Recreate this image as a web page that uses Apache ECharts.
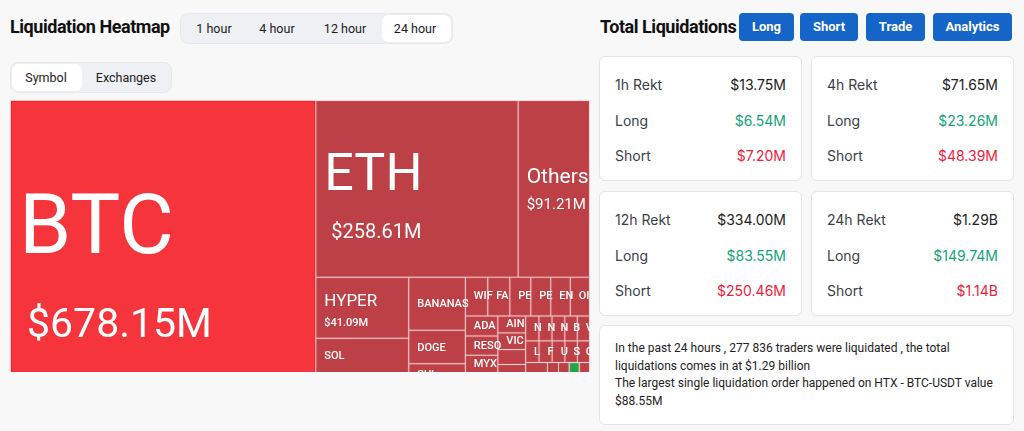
<!DOCTYPE html>
<html><head><meta charset="utf-8">
<script src="https://cdn.jsdelivr.net/npm/echarts@6/dist/echarts.min.js"></script>
<style>
html,body{margin:0;padding:0;width:1024px;height:431px;background:#f8f8f8;overflow:hidden;font-family:Roboto,"Noto Sans",sans-serif;color:#111;}
.a{position:absolute;}
.title{font-weight:700;font-size:18px;letter-spacing:-0.45px;color:#111;line-height:24px;}
.seg{background:#eef0f3;border-radius:8px;border:1px solid #e6e8ec;box-sizing:border-box;}
.segact{background:#fff;border-radius:6px;box-shadow:0 0 1px rgba(0,0,0,0.08);}
.segtxt{font-size:12.5px;color:#1b1b1b;line-height:16px;transform:translateX(-50%);white-space:nowrap;}
.btn{background:#1565c8;color:#fff;font-weight:700;font-size:13px;border-radius:4px;text-align:center;line-height:28px;height:28px;box-sizing:border-box;}
.card{background:#fff;border:1px solid #e4e4e4;border-radius:6px;box-sizing:border-box;}
.lab{font-size:14px;color:#3a3f47;line-height:18px;font-family:Inter,Roboto,sans-serif;}
.val{font-size:14px;color:#222;line-height:18px;text-align:right;font-family:Inter,Roboto,sans-serif;}
.g{color:#16a27a;} .r{color:#f0213a;}
.note{font-size:12px;line-height:17.5px;color:#222;white-space:nowrap;font-family:Roboto,sans-serif;}
#wrap{position:absolute;left:10px;top:100px;width:580px;height:272px;overflow:hidden;}
#chart{width:580px;height:308px;}
</style></head><body>
<div class="a title" style="left:10px;top:15px;">Liquidation Heatmap</div>
<div class="a seg" style="left:180px;top:13px;width:273px;height:31px;"></div>
<div class="a segact" style="left:382px;top:15px;width:69px;height:27px;"></div>
<div class="a segtxt" style="left:214px;top:21px;">1 hour</div>
<div class="a segtxt" style="left:277px;top:21px;">4 hour</div>
<div class="a segtxt" style="left:345px;top:21px;">12 hour</div>
<div class="a segtxt" style="left:415px;top:21px;">24 hour</div>
<div class="a seg" style="left:10px;top:62px;width:162px;height:31px;"></div>
<div class="a segact" style="left:12px;top:64px;width:70px;height:27px;"></div>
<div class="a segtxt" style="left:46px;top:70px;">Symbol</div>
<div class="a segtxt" style="left:126px;top:70px;">Exchanges</div>
<div id="wrap"><div id="chart"></div></div>

<div class="a title" style="left:600px;top:15px;">Total Liquidations</div>
<div class="a btn" style="left:739px;top:13px;width:55px;">Long</div>
<div class="a btn" style="left:800px;top:13px;width:58px;">Short</div>
<div class="a btn" style="left:866px;top:13px;width:59px;">Trade</div>
<div class="a btn" style="left:933px;top:13px;width:79px;">Analytics</div>
<div id="cards"></div>
<div class="a card" style="left:599px;top:325px;width:415px;height:100px;"></div>
<div class="a note" style="left:615px;top:340px;">In the past 24 hours , 277 836 traders were liquidated , the total<br>liquidations comes in at $1.29 billion<br>The largest single liquidation order happened on HTX - BTC-USDT value<br>$88.55M</div>
<script>
// ---- summary data ----
const periods = ['1h', '4h', '12h', '24h'];
const totals = ['$13.75M', '$71.65M', '$334.00M', '$1.29B'];
const longs = ['$6.54M', '$23.26M', '$83.55M', '$149.74M'];
const shorts = ['$7.20M', '$48.39M', '$250.46M', '$1.14B'];

// ---- treemap data (USD millions, 24h) ----
const coins = ['BTC','ETH','Others','HYPER','SOL','XRP','BANANAS','DOGE','SUI','ZEC',
  'WIF','FARTCOIN','PENGU','PEPE','ENA','OIL',
  'ADA','RESOLV','MYX','LINK','BNB',
  'AIN','VIC','1000BONK','UXLINK','AVAX','TRUMP',
  'NEAR','NMR','NOT','BCH','VIRTUAL',
  'LTC','FET','UNI','SEI','CRV',
  'OVER','TAO','APT','ARB',
  'ONDO','TIA','INJ','OP','JUP','WLD','AAVE','DOT','ATOM','FIL','ETC','HBAR','XLM','TON'];
const liqs = [678.15,258.61,91.21,41.09,24.5,22.1,21.8,13.7,9.4,8.5,
  6.3,6.2,5.9,5.6,5.5,5.4,
  4.7,4.5,4.3,4.1,3.9,
  3.4,3.35,3.0,2.95,2.9,2.8,
  2.4,2.35,2.3,2.25,2.2,
  2.1,2.05,2.0,1.95,1.9,
  1.85,1.8,1.75,1.7,
  1.2,1.15,1.1,1.1,1.05,1.0,1.0,0.95,0.95,0.9,0.9,0.85,0.8,0.75];
const longHeavy = ['OP'];
const brightRed = ['BTC'];

// cards
const pos = [[599,56],[811,56],[599,191],[811,191]];
let html = '';
periods.forEach((p, i) => {
  const [x, y] = pos[i];
  const w = 203;
  html += `<div class="a card" style="left:${x}px;top:${y}px;width:${w}px;height:125px;"></div>`;
  const rows = [[p + ' Rekt', totals[i], ''], ['Long', longs[i], 'g'], ['Short', shorts[i], 'r']];
  rows.forEach((r, k) => {
    const cy = y + 29 + k * 35.5 - 9;
    html += `<div class="a lab" style="left:${x+16}px;top:${cy}px;">${r[0]}</div>`;
    html += `<div class="a val ${r[2]}" style="left:${x+16}px;width:${w-32}px;top:${cy}px;">${r[1]}</div>`;
  });
});
document.getElementById('cards').innerHTML = html;

function tier(v) { return v >= 500 ? 0 : v >= 200 ? 1 : v >= 80 ? 2 : v >= 35 ? 3 : 4; }
const blockH = [189, 112, 55, 43, 12];
const tierShift = [9, 3, 0, 2, 0];
function buildData(pads) {
  return coins.map((c, i) => {
    const item = {
      name: c,
      value: liqs[i],
      itemStyle: {
        color: brightRed.includes(c) ? '#f5353b' : longHeavy.includes(c) ? '#22a447' : '#be4047',
        borderColor: brightRed.includes(c) ? '#ff1c28' : longHeavy.includes(c) ? '#3bb35e' : '#c44a51'
      }
    };
    if (pads && pads[c] != null) item.label = {padding: [pads[c], -7, 0, 7]};
    return item;
  });
}

const chart = echarts.init(document.getElementById('chart'), null, {renderer: 'canvas'});
const F = 'Roboto, "Noto Sans", sans-serif';
function opt(pads) {
  return {
    animation: false,
    series: [{
      type: 'treemap',
      left: 0, top: 0, width: '100%', height: '100%',
      roam: false, nodeClick: false,
      breadcrumb: {show: false},
      data: buildData(pads),
      levels: [
        {itemStyle: {borderWidth: 1, borderColor: '#f1d3d5', gapWidth: 1}},
        {itemStyle: {borderWidth: 1, gapWidth: 0}}
      ],
      label: {
        show: true,
        position: 'insideLeft',
        distance: 0,
        padding: [0, -7, 0, 7],
        overflow: 'truncate',
        ellipsis: '',
        color: '#fff',
        fontFamily: F,
        formatter: p => {
          const t = tier(p.value);
          return t < 4 ? `{n${t}|${p.name}}\n{v${t}|$${p.value.toFixed(2)}M}` : `{n4|${p.name}}`;
        },
        rich: {
          n0: {fontSize: 84, lineHeight: 126, fontFamily: F, color: '#fff'},
          v0: {fontSize: 41, lineHeight: 63, fontFamily: F, color: '#fff', padding: [0, 0, 0, 8]},
          n1: {fontSize: 52, lineHeight: 81, fontFamily: F, color: '#fff'},
          v1: {fontSize: 20, lineHeight: 31, fontFamily: F, color: '#fff', padding: [0, 0, 0, 7]},
          n2: {fontSize: 21, lineHeight: 32, fontFamily: F, color: '#fff'},
          v2: {fontSize: 15, lineHeight: 23, fontFamily: F, color: '#fff'},
          n3: {fontSize: 17, lineHeight: 26, fontFamily: F, color: '#fff'},
          v3: {fontSize: 11, lineHeight: 17, fontFamily: F, color: '#fff', fontWeight: 500},
          n4: {fontSize: 11, lineHeight: 12, fontFamily: F, color: '#fff', fontWeight: 500}
        }
      }
    }]
  };
}
chart.setOption(opt(null));
// centre each label block vertically inside its cell
try {
  const root = chart.getModel().getSeriesByIndex(0).getViewRoot();
  const pads = {};
  root.children.forEach(node => {
    const l = node.getLayout();
    if (!l) return;
    const t = tier(node.getValue());
    pads[node.name] = Math.max(0, Math.floor((l.height - blockH[t]) / 2) + (l.height > blockH[t] + 2 * tierShift[t] ? tierShift[t] : 0));
  });
  chart.setOption(opt(pads), {replaceMerge: ['series']});
} catch (e) { console.log(e); }
</script>
</body></html>
